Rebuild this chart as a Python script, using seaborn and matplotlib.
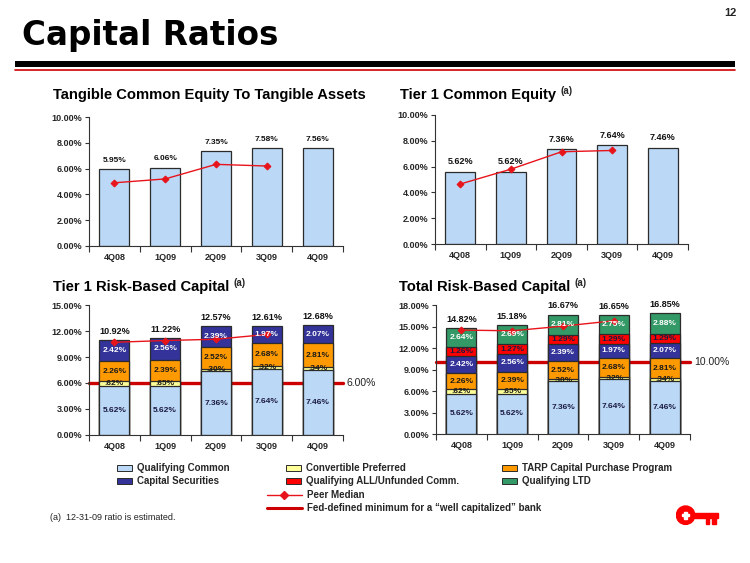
import numpy as np
import pandas as pd
import matplotlib
matplotlib.use('Agg')
import matplotlib.pyplot as plt
import seaborn as sns
from matplotlib.patches import Rectangle, Circle
from matplotlib.lines import Line2D
from matplotlib.ticker import FuncFormatter, MultipleLocator

# --- data ---
quarters = ['4Q08', '1Q09', '2Q09', '3Q09', '4Q09']
peer_quarters = quarters[:4]

tce_ta = [5.95, 6.06, 7.35, 7.58, 7.56]
tce_ta_peer = [4.9, 5.2, 6.33, 6.2]

t1_common = [5.62, 5.62, 7.36, 7.64, 7.46]
t1_common_peer = [4.65, 5.8, 7.15, 7.25]

qual_common = [5.62, 5.62, 7.36, 7.64, 7.46]
conv_pref = [0.62, 0.65, 0.30, 0.32, 0.34]
tarp = [2.26, 2.39, 2.52, 2.68, 2.81]
cap_sec = [2.42, 2.56, 2.39, 1.97, 2.07]
qual_all = [1.26, 1.27, 1.29, 1.29, 1.29]
qual_ltd = [2.64, 2.69, 2.81, 2.75, 2.88]

t1_rbc_total = [10.92, 11.22, 12.57, 12.61, 12.68]
t1_rbc_peer = [10.7, 10.9, 11.05, 11.6]
total_rbc_total = [14.82, 15.18, 16.67, 16.65, 16.85]
total_rbc_peer = [14.5, 14.4, 15.05, 15.8]

t1_min = 6.0
total_min = 10.0

# colours
C_COMMON = '#BBD8F6'
C_CONV = '#FFFF99'
C_TARP = '#FF9900'
C_CAPSEC = '#333399'
C_ALL = '#FF0000'
C_LTD = '#339966'
C_PEER = '#E8141B'
C_MIN = '#CC0000'
EDGE = '#2B2B2B'

sns.set_theme(style='white')
plt.rcParams['font.family'] = ['Liberation Sans', 'DejaVu Sans']
plt.rcParams['font.weight'] = 'bold'

W, H = 750, 563
fig = plt.figure(figsize=(7.5, 5.63), dpi=100)


def fx(x):
    return x / W


def fy(y):
    return 1 - y / H


def rect(x0, y0, x1, y1):
    return [fx(x0), fy(y1), fx(x1) - fx(x0), fy(y0) - fy(y1)]


def style_axes(ax, ymax, step):
    ax.set_xlim(-0.5, 4.5)
    ax.set_ylim(0, ymax)
    ax.yaxis.set_major_locator(MultipleLocator(step))
    ax.yaxis.set_major_formatter(FuncFormatter(lambda v, _: f'{v:.2f}%'))
    ax.set_xticks(np.arange(-0.5, 5, 1), minor=True)
    ax.tick_params(axis='x', which='major', length=0, labelsize=6.5, pad=5)
    ax.tick_params(axis='x', which='minor', length=4, width=0.8, color='#333333', bottom=True)
    ax.tick_params(axis='y', length=3, width=0.8, color='#333333', labelsize=6.5, pad=2, left=True)
    ax.set_xlabel('')
    ax.set_ylabel('')
    sns.despine(ax=ax)
    for s in ['left', 'bottom']:
        ax.spines[s].set_color('#333333')
        ax.spines[s].set_linewidth(0.8)


def peer_line(ax, vals):
    sns.lineplot(x=peer_quarters, y=vals, ax=ax, color=C_PEER, lw=1.0, marker='D',
                 markersize=3.5, markeredgecolor=C_PEER, sort=False, legend=False)


def simple_chart(ax, vals, peer, fs):
    sns.barplot(x=quarters, y=vals, order=quarters, ax=ax, color=C_COMMON, width=0.59,
                saturation=1, edgecolor=EDGE, linewidth=0.9)
    for i, v in enumerate(vals):
        ax.annotate(f'{v:.2f}%', (i, v), xytext=(0, 4), textcoords='offset points',
                    ha='center', va='bottom', fontsize=fs, color='#111111')
    peer_line(ax, peer)
    style_axes(ax, 10, 2)


def stacked_chart(ax, layers, totals, peer, ymax, min_val):
    cum = np.cumsum([v for _, v, _, _ in layers], axis=0)
    for k in reversed(range(len(layers))):
        sns.barplot(x=quarters, y=cum[k], order=quarters, ax=ax, color=layers[k][2],
                    width=0.59, saturation=1, edgecolor=EDGE, linewidth=0.9)
    for k, (name, vals, col, tcol) in enumerate(layers):
        base = cum[k - 1] if k > 0 else np.zeros(5)
        for i, v in enumerate(vals):
            lbl = f'.{int(round(v * 100)):02d}%' if v < 1 else f'{v:.2f}%'
            ax.text(i, base[i] + v / 2, lbl, ha='center', va='center',
                    fontsize=6, color=tcol)
    for i, t in enumerate(totals):
        ax.annotate(f'{t:.2f}%', (i, t), xytext=(0, 3), textcoords='offset points',
                    ha='center', va='bottom', fontsize=6.5, color='#111111')
    # well-capitalized minimum sits behind the bars
    ax.axhline(min_val, xmin=0, xmax=1.0, color=C_MIN, lw=2.4, clip_on=False, zorder=0.5)
    ax.text(1.015, min_val, f'{min_val:.2f}%', transform=ax.get_yaxis_transform(),
            ha='left', va='center', fontsize=7.5, fontweight='normal', color='#222222')
    peer_line(ax, peer)
    style_axes(ax, ymax, 3)


# --- header ---
fig.text(fx(22), fy(35), 'Capital Ratios', fontsize=23.5, fontweight='bold',
         family='DejaVu Sans', ha='left', va='center', color='#000000')
fig.text(fx(737), fy(13), '12', fontsize=8, ha='right', va='center')
fig.add_artist(Rectangle((fx(15), fy(67)), fx(735) - fx(15), fy(61) - fy(67),
                         transform=fig.transFigure, color='#000000', lw=0))
fig.add_artist(Line2D([fx(15), fx(735)], [fy(69.5), fy(69.5)], transform=fig.transFigure,
                      color=C_MIN, lw=1.2))

# --- four charts ---
ax_tl = fig.add_axes(rect(89, 117, 343, 246))
ax_tr = fig.add_axes(rect(435, 115, 688, 244))
ax_bl = fig.add_axes(rect(89, 305, 343, 435))
ax_br = fig.add_axes(rect(436, 305, 690, 434))

simple_chart(ax_tl, tce_ta, tce_ta_peer, 6)
simple_chart(ax_tr, t1_common, t1_common_peer, 6.5)

t1_layers = [
    ('Qualifying Common', qual_common, C_COMMON, '#1A1A40'),
    ('Convertible Preferred', conv_pref, C_CONV, '#1A1A1A'),
    ('TARP Capital Purchase Program', tarp, C_TARP, '#1A1A1A'),
    ('Capital Securities', cap_sec, C_CAPSEC, '#FFFFFF'),
]
total_layers = t1_layers + [
    ('Qualifying ALL/Unfunded Comm.', qual_all, C_ALL, '#1A1A40'),
    ('Qualifying LTD', qual_ltd, C_LTD, '#FFFFFF'),
]
stacked_chart(ax_bl, t1_layers, t1_rbc_total, t1_rbc_peer, 15, t1_min)
stacked_chart(ax_br, total_layers, total_rbc_total, total_rbc_peer, 18, total_min)

# --- chart titles with superscript (a) ---
renderer = fig.canvas.get_renderer()
titles = [
    (53, 95, 'Tangible Common Equity To Tangible Assets', False),
    (400, 95, 'Tier 1 Common Equity', True),
    (53, 287, 'Tier 1 Risk-Based Capital', True),
    (399, 287, 'Total Risk-Based Capital', True),
]
for x, y, s, sup in titles:
    t = fig.text(fx(x), fy(y), s, fontsize=10.6, ha='left', va='center', color='#000000')
    if sup:
        bb = t.get_window_extent(renderer=renderer)
        fig.text(bb.x1 / fig.dpi / fig.get_figwidth() + fx(4), fy(y - 4), '(a)',
                 fontsize=7, ha='left', va='center')

# --- legend ---
def patch(x, y, col):
    fig.add_artist(Rectangle((fx(x), fy(y + 3)), fx(15), fy(0) - fy(6),
                             transform=fig.transFigure, facecolor=col,
                             edgecolor=EDGE, lw=0.7))


legend_items = [
    (117, 468, C_COMMON, 'Qualifying Common'),
    (117, 481, C_CAPSEC, 'Capital Securities'),
    (286, 468, C_CONV, 'Convertible Preferred'),
    (286, 481, C_ALL, 'Qualifying ALL/Unfunded Comm.'),
    (502, 468, C_TARP, 'TARP Capital Purchase Program'),
    (502, 481, C_LTD, 'Qualifying LTD'),
]
for x, y, col, lab in legend_items:
    patch(x, y, col)
    fig.text(fx(x + 20), fy(y), lab, fontsize=7, ha='left', va='center')

fig.add_artist(Line2D([fx(267), fx(302)], [fy(495), fy(495)], transform=fig.transFigure,
                      color=C_PEER, lw=1.0))
fig.add_artist(Line2D([fx(284)], [fy(495)], transform=fig.transFigure, color=C_PEER,
                      marker='D', markersize=4.5, lw=0))
fig.text(fx(307), fy(495), 'Peer Median', fontsize=7, ha='left', va='center')
fig.add_artist(Line2D([fx(267), fx(302)], [fy(508), fy(508)], transform=fig.transFigure,
                      color=C_MIN, lw=2.2))
fig.text(fx(307), fy(508), 'Fed-defined minimum for a \u201cwell capitalized\u201d bank',
         fontsize=7, ha='left', va='center')

fig.text(fx(50), fy(517), '(a)  12-31-09 ratio is estimated.', fontsize=6.5,
         fontweight='normal', ha='left', va='center', color='#222222')

# --- key logo ---
lax = fig.add_axes(rect(676, 504, 720, 528))
lax.set_xlim(0, 5.5)
lax.set_ylim(0, 3)
lax.set_aspect('equal')
lax.axis('off')
lax.add_patch(Circle((1.2, 1.6), 1.15, color='#FF0000'))
lax.add_patch(Rectangle((0.75, 1.45), 0.9, 0.3, color='white'))
lax.add_patch(Rectangle((1.05, 1.15), 0.3, 0.9, color='white'))
lax.add_patch(Rectangle((2.2, 1.3), 3.0, 0.6, color='#FF0000'))
lax.add_patch(Rectangle((3.7, 0.5), 0.45, 1.0, color='#FF0000'))
lax.add_patch(Rectangle((4.5, 0.5), 0.45, 1.0, color='#FF0000'))

fig.savefig('out.png', dpi=100)
